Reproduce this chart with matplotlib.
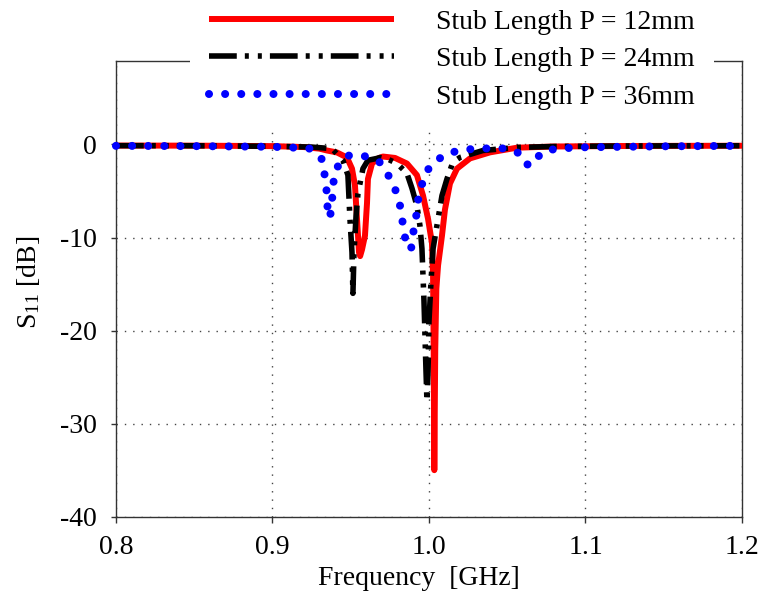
import matplotlib
matplotlib.use("Agg")
import matplotlib.pyplot as plt

# S11 curves (frequency in GHz, S11 in dB)
freq_12 = [0.80, 0.85, 0.90, 0.920, 0.930, 0.9348, 0.9412, 0.9476, 0.9508, 0.9527,
           0.9540, 0.9553, 0.9560, 0.9572, 0.9591, 0.9604, 0.9610, 0.9636, 0.9674,
           0.9706, 0.9732, 0.9783, 0.9859, 0.9923, 0.9962, 0.9994, 1.0019, 1.0026,
           1.0030, 1.0034, 1.0040, 1.0047, 1.0058, 1.0083, 1.0102, 1.0134, 1.0179,
           1.0262, 1.0390, 1.0562, 1.080, 1.120, 1.160, 1.200]
s11_12 = [-0.12, -0.13, -0.18, -0.28, -0.45, -0.65, -0.86, -1.4, -2.6, -4.4,
          -8.0, -11.6, -12.0, -11.3, -9.8, -6.3, -3.7, -2.05, -1.5,
          -1.3, -1.35, -1.45, -2.05, -3.3, -5.5, -8.0, -10.6, -14.0,
          -22.0, -35.0, -22.0, -15.5, -13.0, -9.8, -7.0, -4.2, -2.6,
          -1.5, -0.85, -0.35, -0.22, -0.17, -0.15, -0.14]

freq_24 = [0.80, 0.85, 0.90, 0.925, 0.938, 0.945, 0.9482, 0.9495, 0.9508, 0.9514,
           0.9521, 0.9534, 0.9546, 0.9578, 0.9610, 0.9668, 0.9687, 0.9740, 0.9796,
           0.9859, 0.9891, 0.9923, 0.9942, 0.9955, 0.9968, 0.9981, 0.9987, 0.9994,
           1.0000, 1.0013, 1.0026, 1.0051, 1.0083, 1.0115, 1.0153, 1.0198, 1.0345,
           1.0562, 1.080, 1.120, 1.160, 1.200]
s11_24 = [-0.13, -0.14, -0.2, -0.28, -0.45, -1.7, -3.3, -8.0, -11.6, -16.0,
          -11.6, -7.7, -5.3, -2.6, -1.7, -1.5, -1.4, -1.6, -2.05,
          -3.1, -4.7, -6.6, -8.7, -11.2, -16.8, -24.4, -27.6, -24.4,
          -19.0, -14.7, -11.2, -8.7, -5.5, -3.7, -1.9, -1.4, -0.65,
          -0.32, -0.22, -0.17, -0.15, -0.14]

freq_36 = [0.80, 0.85, 0.90, 0.915, 0.924, 0.9323, 0.9335, 0.9348, 0.9352, 0.9367,
           0.9380, 0.9386, 0.9406, 0.9476, 0.9578, 0.9680, 0.9751, 0.9796, 0.9821,
           0.9834, 0.9853, 0.9885, 0.9898, 0.9917, 0.9930, 0.9955, 1.0000, 1.0096,
           1.0192, 1.0307, 1.0511, 1.0569, 1.0594, 1.0645, 1.0677, 1.0728, 1.0824,
           1.100, 1.150, 1.200]
s11_36 = [-0.15, -0.18, -0.25, -0.35, -0.45, -1.7, -3.6, -5.3, -6.9, -7.9,
          -6.3, -4.4, -2.6, -1.2, -1.2, -1.8, -3.6, -5.3, -7.0,
          -8.7, -10.6, -11.3, -9.6, -7.9, -6.0, -4.3, -2.5, -1.1,
          -0.65, -0.43, -0.43, -0.9, -1.8, -2.3, -1.7, -0.75, -0.43,
          -0.3, -0.2, -0.15]

labels = ["Stub Length P = 12mm", "Stub Length P = 24mm", "Stub Length P = 36mm"]

plt.rcParams["font.family"] = ["Liberation Serif", "DejaVu Serif"]
plt.rcParams["mathtext.fontset"] = "custom"
plt.rcParams["mathtext.rm"] = "Liberation Serif"
plt.rcParams["mathtext.it"] = "Liberation Serif:italic"
plt.rcParams["axes.unicode_minus"] = False

fig = plt.figure(figsize=(7.59, 5.95), dpi=100)
ax = fig.add_axes([0.1528, 0.1316, 0.8248, 0.7664])

ax.plot(freq_12, s11_12, color="#ff0000", lw=4.3, solid_capstyle="butt",
        label=labels[0], zorder=3, clip_on=False)
ax.plot(freq_24, s11_24, color="black", lw=4.0, dash_capstyle="butt",
        linestyle=(0, (5.0, 1.45, 0.72, 1.62, 0.72, 1.45)),
        label=labels[1], zorder=4, clip_on=False)
ax.plot(freq_36, s11_36, color="#0000ff", lw=5.8, dash_capstyle="round",
        linestyle=(0, (0.001, 2.0)), label=labels[2], zorder=5, clip_on=False)

ax.set_xlim(0.8, 1.2)
ax.set_ylim(-40, 9)
ax.set_xticks([0.8, 0.9, 1.0, 1.1, 1.2])
ax.set_xticklabels(["0.8", "0.9", "1.0", "1.1", "1.2"])
ax.set_yticks([-40, -30, -20, -10, 0])

ax.set_axisbelow(True)
ax.grid(True, linestyle=(0, (1, 5)), color="#444444", lw=1.0)

for sp in ax.spines.values():
    sp.set_color("#333333")
    sp.set_linewidth(1.0)

ax.tick_params(axis="x", direction="out", length=4.3, width=1, pad=9,
               labelsize=20, color="#333333")
ax.tick_params(axis="y", direction="out", length=3.6, width=1, pad=10,
               labelsize=20, color="#333333")

ax.set_xlabel("Frequency  [GHz]", fontsize=20)
ax.xaxis.set_label_coords(0.484, -0.108)
ax.set_ylabel(r"S$_{11}$ [dB]", fontsize=20)
ax.yaxis.set_label_coords(-0.118, 0.513)

leg = ax.legend(loc="lower left", bbox_to_anchor=(0.2503, 0.7832),
                bbox_transform=fig.transFigure, borderaxespad=0,
                fontsize=20, handlelength=6.65, handletextpad=1.5,
                labelspacing=0.43, borderpad=0.7, frameon=True,
                fancybox=False, framealpha=1)
leg.get_frame().set_facecolor("white")
leg.get_frame().set_edgecolor("none")

fig.savefig("out.png", dpi=100)
